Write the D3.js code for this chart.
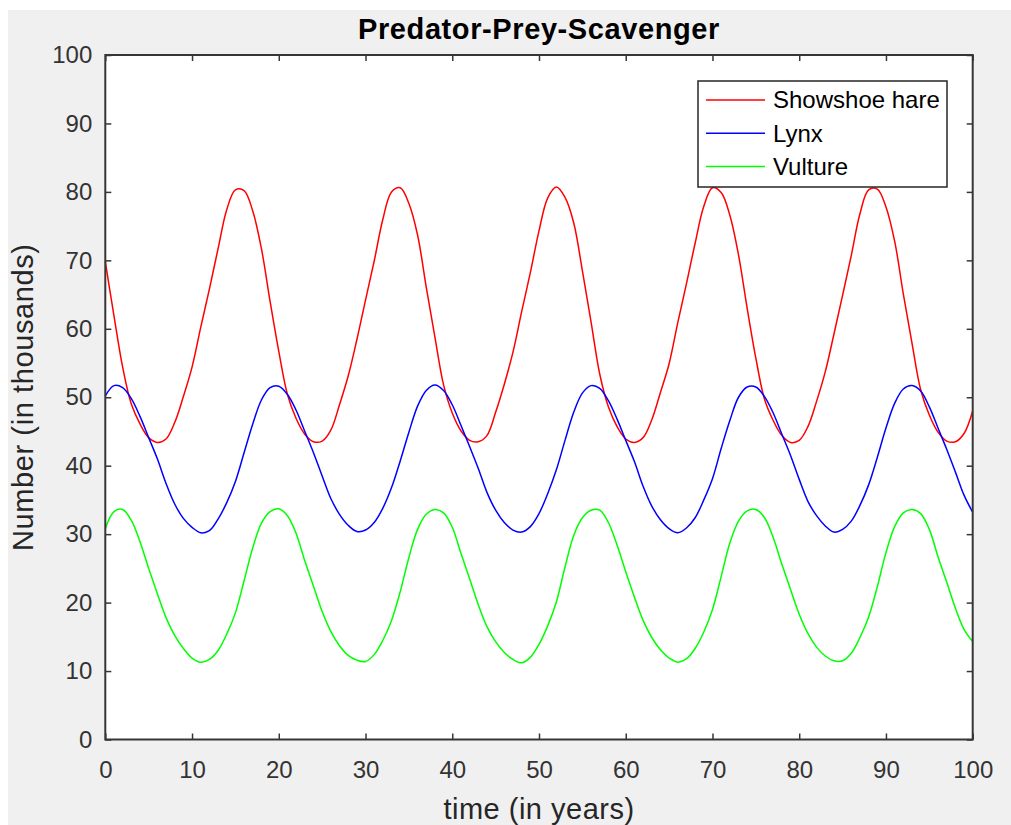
<!DOCTYPE html>
<html lang="en">

<head>
    <meta charset="UTF-8">
    <title>Predator-Prey-Scavenger</title>
    <style>
        body { margin: 0; background: #fff; }
        text { font-family: "Liberation Sans", Arial, sans-serif; }
    </style>
</head>

<body>
    <svg id="chart"></svg>

    <script src="https://d3js.org/d3.v7.min.js"></script>
    <script>
        // time grid, one sample per year (0..100)
        const years = d3.range(0, 101);

        // Showshoe hare (thousands)
        const hare = [
            69.8, 61.9, 54.4, 49.0, 46.1, 44.1, 43.4, 43.9, 46.3, 50.1,
            54.4, 60.2, 65.8, 71.7, 77.4, 80.3, 80.2, 77.2, 71.7, 64.0,
            56.7, 50.4, 46.9, 44.6, 43.5, 43.6, 45.2, 48.9, 53.1, 58.4,
            64.2, 69.9, 76.0, 80.0, 80.6, 78.3, 73.7, 66.1, 58.8, 51.8,
            47.7, 45.1, 43.7, 43.5, 44.4, 47.8, 51.9, 56.6, 62.5, 68.2,
            74.3, 79.1, 80.7, 79.2, 75.5, 68.5, 61.0, 53.4, 48.6, 45.7,
            43.9, 43.4, 44.1, 46.7, 50.7, 54.9, 60.9, 66.6, 72.5, 77.9,
            80.6, 79.9, 76.6, 70.8, 63.0, 55.7, 49.7, 46.6, 44.4, 43.4,
            43.7, 45.7, 49.4, 53.7, 59.2, 64.9, 70.7, 76.8, 80.3, 80.4,
            77.8, 72.8, 65.1, 57.9, 51.1, 47.4, 44.9, 43.6, 43.5, 44.7,
            48.0
        ];

        // Lynx
        const lynx = [
            50.2, 51.7, 51.4, 49.8, 47.2, 44.1, 41.0, 37.4, 34.4, 32.3,
            31.0, 30.2, 30.5, 32.2, 34.6, 37.7, 41.9, 46.1, 49.6, 51.4,
            51.6, 50.4, 48.1, 45.0, 41.9, 38.5, 35.2, 32.9, 31.3, 30.4,
            30.6, 31.7, 33.8, 36.8, 40.7, 44.9, 48.7, 51.0, 51.8, 51.0,
            48.9, 45.9, 42.8, 39.6, 36.1, 33.5, 31.7, 30.6, 30.3, 31.1,
            33.0, 35.9, 39.4, 43.7, 47.8, 50.6, 51.7, 51.3, 49.5, 46.8,
            43.7, 40.6, 37.0, 34.1, 32.1, 30.8, 30.2, 30.9, 32.4, 35.0,
            38.1, 42.5, 46.6, 50.0, 51.5, 51.5, 50.1, 47.7, 44.6, 41.5,
            38.0, 34.8, 32.7, 31.2, 30.3, 30.7, 31.9, 34.2, 37.2, 41.2,
            45.5, 49.1, 51.2, 51.7, 50.9, 48.6, 45.5, 42.4, 39.1, 35.7,
            33.2
        ];

        // Vulture
        const vulture = [
            30.8, 33.3, 33.6, 32.0, 28.9, 25.0, 21.3, 17.8, 15.2, 13.3,
            11.9, 11.3, 11.7, 13.0, 15.4, 18.5, 23.2, 28.0, 31.6, 33.3,
            33.7, 32.7, 30.1, 26.1, 22.4, 18.7, 15.8, 13.7, 12.3, 11.6,
            11.4, 12.4, 14.5, 17.4, 21.6, 26.6, 30.7, 32.9, 33.6, 33.1,
            31.0, 27.2, 23.5, 19.7, 16.5, 14.3, 12.7, 11.7, 11.2, 12.0,
            13.9, 16.6, 20.1, 25.2, 29.8, 32.4, 33.5, 33.5, 31.7, 28.4,
            24.5, 20.8, 17.4, 14.9, 13.1, 11.9, 11.3, 11.8, 13.3, 15.7,
            19.0, 23.8, 28.7, 31.9, 33.4, 33.6, 32.4, 29.5, 25.6, 21.9,
            18.3, 15.5, 13.5, 12.2, 11.5, 11.5, 12.6, 14.9, 17.9, 22.3,
            27.3, 31.1, 33.1, 33.6, 33.0, 30.7, 26.7, 23.0, 19.2, 16.1,
            14.3
        ];

        const seriesNames = ['Showshoe hare', 'Lynx', 'Vulture'];
        const seriesColors = ['#ff0000', '#0000ff', '#00ff00'];
        const xTicks = [0, 10, 20, 30, 40, 50, 60, 70, 80, 90, 100];
        const yTicks = [0, 10, 20, 30, 40, 50, 60, 70, 80, 90, 100];

        const W = 1011, H = 825;
        const plot = { left: 105.3, right: 972.7, top: 55, bottom: 739.5 };

        const svg = d3.select('#chart').attr('width', W).attr('height', H);

        // figure background
        svg.append('rect').attr('x', 8).attr('y', 10)
            .attr('width', W - 8).attr('height', H - 10).attr('fill', '#f0f0f0');
        svg.append('rect')
            .attr('x', plot.left).attr('y', plot.top)
            .attr('width', plot.right - plot.left).attr('height', plot.bottom - plot.top)
            .attr('fill', '#fff');

        const x = d3.scaleLinear().domain([0, 100]).range([plot.left, plot.right]);
        const y = d3.scaleLinear().domain([0, 100]).range([plot.bottom, plot.top]);

        const axisColor = '#363636';

        function styleAxis(g) {
            g.select('.domain').remove();
            g.selectAll('.tick line').attr('stroke', axisColor).attr('stroke-width', 1.5);
            g.selectAll('.tick text')
                .attr('fill', '#333')
                .style('font-size', '24px')
                .style('font-family', '"Liberation Sans", Arial, sans-serif');
        }

        // bottom + left axes with labels, ticks pointing inwards
        svg.append('g')
            .attr('transform', `translate(0,${plot.bottom})`)
            .call(d3.axisBottom(x).tickValues(xTicks).tickSize(-6).tickPadding(21))
            .call(styleAxis);
        svg.append('g')
            .attr('transform', `translate(${plot.left},0)`)
            .call(d3.axisLeft(y).tickValues(yTicks).tickSize(-6).tickPadding(13))
            .call(styleAxis);
        // top + right: ticks only
        svg.append('g')
            .attr('transform', `translate(0,${plot.top})`)
            .call(d3.axisTop(x).tickValues(xTicks).tickSize(-6).tickFormat(''))
            .call(styleAxis);
        svg.append('g')
            .attr('transform', `translate(${plot.right},0)`)
            .call(d3.axisRight(y).tickValues(yTicks).tickSize(-6).tickFormat(''))
            .call(styleAxis);

        // lines
        const data = [hare, lynx, vulture];
        const line = d3.line()
            .x((d, i) => x(years[i]))
            .y(d => y(d))
            .curve(d3.curveCatmullRom);

        svg.append('g')
            .selectAll('path')
            .data(data)
            .join('path')
            .attr('fill', 'none')
            .attr('stroke', (d, i) => seriesColors[i])
            .attr('stroke-width', 1.5)
            .attr('d', line);

        // axes box
        svg.append('rect')
            .attr('x', plot.left).attr('y', plot.top)
            .attr('width', plot.right - plot.left).attr('height', plot.bottom - plot.top)
            .attr('fill', 'none').attr('stroke', axisColor).attr('stroke-width', 2);

        // title + axis labels
        svg.append('text')
            .attr('x', (plot.left + plot.right) / 2).attr('y', 39)
            .attr('text-anchor', 'middle')
            .attr('font-weight', 'bold')
            .style('font-size', '29px')
            .style('letter-spacing', '0.6px')
            .attr('fill', '#000')
            .text('Predator-Prey-Scavenger');

        svg.append('text')
            .attr('x', (plot.left + plot.right) / 2).attr('y', 819)
            .attr('text-anchor', 'middle')
            .style('font-size', '29px')
            .style('letter-spacing', '0.5px')
            .attr('fill', '#262626')
            .text('time (in years)');

        svg.append('text')
            .attr('transform', `translate(33,${(plot.top + plot.bottom) / 2}) rotate(-90)`)
            .attr('text-anchor', 'middle')
            .style('font-size', '29px')
            .style('letter-spacing', '0.6px')
            .attr('fill', '#262626')
            .text('Number (in thousands)');

        // legend
        const legend = svg.append('g');
        legend.append('rect')
            .attr('x', 698).attr('y', 81)
            .attr('width', 249).attr('height', 106)
            .attr('fill', '#fff').attr('stroke', '#262626').attr('stroke-width', 1.5);

        const rows = legend.selectAll('g')
            .data(seriesNames)
            .join('g')
            .attr('transform', (d, i) => `translate(0,${100 + i * 33.3})`);
        rows.append('line')
            .attr('x1', 706).attr('x2', 765)
            .attr('stroke', (d, i) => seriesColors[i])
            .attr('stroke-width', 1.5);
        rows.append('text')
            .attr('x', 773).attr('dy', '0.35em')
            .style('font-size', '24px')
            .attr('fill', '#000')
            .text(d => d);
    </script>
</body>

</html>
